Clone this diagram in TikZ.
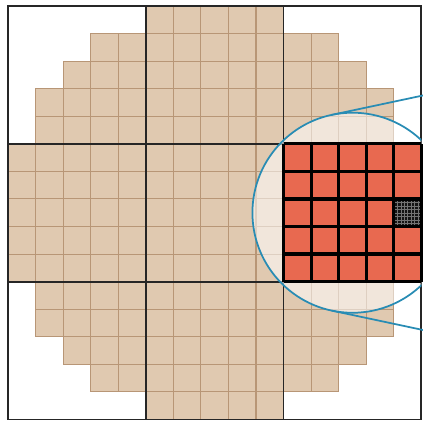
\documentclass[tikz,border=0pt]{standalone}
\usetikzlibrary{calc}
\definecolor{tanfill}{RGB}{224,201,176}
\definecolor{tanline}{RGB}{184,150,118}
\definecolor{redfill}{RGB}{232,105,80}
\definecolor{lensblue}{RGB}{40,140,180}
\tikzset{
  tancell/.style={fill=tanfill,draw=tanline,line width=1.1pt},
  biggrid/.style={draw=black!85,line width=1.8pt},
  redcell/.style={fill=redfill},
  redgrid/.style={draw=black,line width=3.3pt},
  lens/.style={draw=lensblue,line width=1.8pt},
}
\begin{document}
\begin{tikzpicture}[x=1cm,y=1cm]
\useasboundingbox (-0.29,-0.04) rectangle (15.06,15.22);
\coordinate (C) at (12.5,7.5);
% tan cells
\foreach \r/\a/\b in {0/5/9,1/3/11,2/2/12,3/1/13,4/1/13,5/0/14,6/0/14,7/0/14,8/0/14,9/0/14,10/1/13,11/1/13,12/2/12,13/3/11,14/5/9}{
  \foreach \c in {\a,...,\b}{
    \draw[tancell] (\c,14-\r) rectangle ++(1,1);
  }
}
% big grid
\draw[biggrid] (0,0) rectangle (15,15);
\draw[biggrid] (5,0) -- (5,15) (10,0) -- (10,15) (0,5) -- (15,5) (0,10) -- (15,10);
% lens fill
\begin{scope}
  \clip (0,0) rectangle (15,15);
  \fill[white,opacity=0.55] (C) circle (3.63);
\end{scope}
% red block
\fill[redcell] (10,5) rectangle (15,10);
\fill[black!92] (14,7) rectangle (15,8);
\draw[black!55,line width=0.15pt,step=0.125] (14,7) grid (15,8);
\draw[redgrid] (10,5) grid (15,10);
% lens outline
\begin{scope}
  \clip (0,0) rectangle (15,15);
  \draw[lens] (C) circle (3.63);
\end{scope}
\draw[lens] ($(C)+(102:3.63)$) -- ++(12:4);
\draw[lens] ($(C)+(-102:3.63)$) -- ++(-12:4);
\end{tikzpicture}
\end{document}
